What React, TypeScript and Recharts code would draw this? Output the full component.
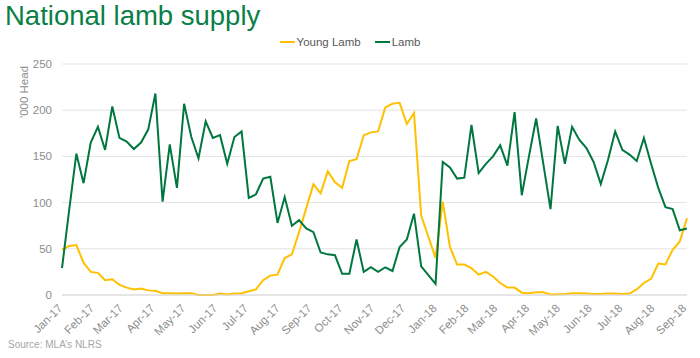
import { LineChart, Line, XAxis, YAxis, CartesianGrid, Label } from 'recharts'

// week number since first report (week 51 missing: Christmas break)
const weeks = [
  0, 1, 2, 3, 4, 5, 6, 7, 8, 9, 10, 11, 12, 13, 14, 15, 16, 17, 18, 19, 20, 21, 22, 23, 24, 25,
  26, 27, 28, 29, 30, 31, 32, 33, 34, 35, 36, 37, 38, 39, 40, 41, 42, 43, 44, 45, 46, 47, 48, 49, 50,
  52, 53, 54, 55, 56, 57, 58, 59, 60, 61, 62, 63, 64, 65, 66, 67, 68, 69, 70, 71, 72, 73, 74, 75,
  76, 77, 78, 79, 80, 81, 82, 83, 84, 85, 86, 87,
]

const youngLamb = [
  49, 53, 54, 35, 25, 24, 16, 17, 11, 8, 6, 7, 5, 4.5, 2, 2, 1.5, 2, 2, 0, 0, 0, 1.5, 0.5, 1.5, 2,
  4, 6, 16, 21, 22, 40, 44, 68, 94, 120, 110, 134, 122, 116, 145, 147, 173, 176, 177, 203, 207, 208, 185, 197, 86,
  40, 101, 52, 33, 33, 29, 22, 25, 20, 13, 8, 8, 2.5, 2, 3, 3, 0.5, 0.7, 1, 2, 2, 1.5, 1, 1,
  1.5, 1.5, 1, 1.5, 6, 13, 17.5, 34, 33, 49, 58, 83,
]

const lamb = [
  29, 92, 153, 121, 165, 182, 157, 204, 170, 166, 158, 165, 179, 218, 101, 163, 116, 207, 171, 148, 188, 170, 173, 142, 171, 177,
  105, 109, 126, 128, 78, 106, 75, 81, 72, 68, 46, 44, 43, 23, 23, 60, 25, 30, 25, 30, 26, 52, 60, 88, 31,
  12, 144, 138, 126, 127, 184, 132, 142, 150, 162, 140, 198, 108, 150, 191, 142, 93, 183, 142, 182, 168, 159, 144, 120,
  146, 177, 157, 152, 145, 170, 142, 116, 95, 93, 70, 72,
]

const monthLabels = [
  'Jan-17', 'Feb-17', 'Mar-17', 'Apr-17', 'May-17', 'Jun-17', 'Jul-17', 'Aug-17', 'Sep-17', 'Oct-17',
  'Nov-17', 'Dec-17', 'Jan-18', 'Feb-18', 'Mar-18', 'Apr-18', 'May-18', 'Jun-18', 'Jul-18', 'Aug-18', 'Sep-18',
]

const yTicks = [0, 50, 100, 150, 200, 250]

const YELLOW = '#FFC000'
const GREEN = '#00773F'
const GREY = '#8c8c8c'
const FONT = '"Liberation Sans", Arial, sans-serif'

const data = weeks.map((w, i) => ({ week: w, young: youngLamb[i], lamb: lamb[i] }))

// month tick positions, in weeks from 1 Jan 2017
const start = Date.UTC(2017, 0, 1)
const monthTicks = monthLabels.map((_, i) => (Date.UTC(2017, i, 1) - start) / (7 * 86400000))

function MonthTick(props: { x: number; y: number; index: number }) {
  const { x, y, index } = props
  return (
    <text
      x={x + 1}
      y={y + 6}
      transform={`rotate(-45, ${x + 1}, ${y + 6})`}
      textAnchor="end"
      fill={GREY}
      fontSize={11.5}
      fontFamily={FONT}
    >
      {monthLabels[index]}
    </text>
  )
}

function LegendRow() {
  const items = [
    { name: 'Young Lamb', color: YELLOW },
    { name: 'Lamb', color: GREEN },
  ]
  return (
    <div style={{ display: 'flex', justifyContent: 'center', gap: 14, fontFamily: FONT, fontSize: 11.5, color: '#595959' }}>
      {items.map(it => (
        <div key={it.name} style={{ display: 'flex', alignItems: 'center', gap: 2 }}>
          <span style={{ display: 'inline-block', width: 15, height: 2, background: it.color }} />
          {it.name}
        </div>
      ))}
    </div>
  )
}

export default function App() {
  return (
    <div style={{ position: 'absolute', left: 0, top: 0, width: 700, height: 358, background: '#fff' }}>
      <div
        style={{
          position: 'absolute',
          left: 5,
          top: 2,
          fontFamily: FONT,
          fontSize: 27.5,
          lineHeight: '28px',
          color: '#0a7f46',
          whiteSpace: 'nowrap',
        }}
      >
        National lamb supply
      </div>
      <LineChart width={700} height={358} data={data} margin={{ top: 64, right: 13, bottom: 0, left: 0 }}>
        <CartesianGrid vertical={false} stroke="#e3e3e3" />
        <XAxis
          dataKey="week"
          type="number"
          domain={[0, 87]}
          ticks={monthTicks}
          interval={0}
          height={63}
          tick={MonthTick}
          tickLine={false}
          axisLine={{ stroke: '#d9d9d9' }}
        />
        <YAxis
          domain={[0, 250]}
          ticks={yTicks}
          width={62}
          tickMargin={4}
          tickLine={false}
          axisLine={false}
          tick={{ fill: GREY, fontSize: 11.5, fontFamily: FONT }}
        >
          <Label
            content={({ viewBox }: any) => (
              <text
                x={viewBox.x + 28}
                y={viewBox.y + 28}
                transform={`rotate(-90, ${viewBox.x + 28}, ${viewBox.y + 28})`}
                textAnchor="middle"
                fill={GREY}
                fontSize={11.5}
                fontFamily={FONT}
              >
                '000 Head
              </text>
            )}
          />
        </YAxis>
        <Line dataKey="young" name="Young Lamb" stroke={YELLOW} strokeWidth={2} dot={false} isAnimationActive={false} />
        <Line dataKey="lamb" name="Lamb" stroke={GREEN} strokeWidth={2} dot={false} isAnimationActive={false} />
      </LineChart>
      <div style={{ position: 'absolute', top: 36, left: 0, width: 700 }}>
        <LegendRow />
      </div>
      <div
        style={{
          position: 'absolute',
          left: 8,
          top: 339,
          fontFamily: FONT,
          fontSize: 10,
          color: '#a6a6a6',
        }}
      >
        Source: MLA’s NLRS
      </div>
    </div>
  )
}
